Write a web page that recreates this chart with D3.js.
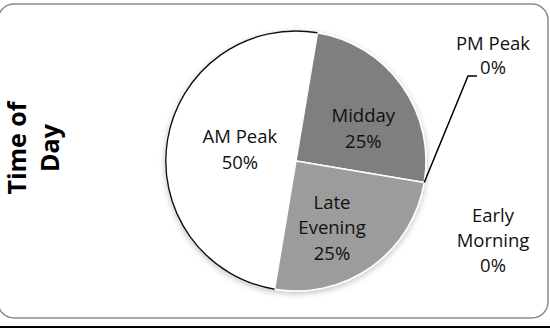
<!DOCTYPE html>
<html><head><meta charset="utf-8">
<script src="https://cdn.jsdelivr.net/npm/d3@7"></script>
<style>html,body{margin:0;padding:0;background:#fff;} svg{display:block}</style>
</head><body>
<script>
// ---- data ----
const categories = ["AM Peak", "Midday", "PM Peak", "Late Evening", "Early Morning"];
const values = [50, 25, 0, 25, 0];
const percentLabels = ["50%", "25%", "0%", "25%", "0%"];
const titleLines = ["Time of", "Day"];

const W = 550, H = 328;
const cx = 296, cy = 161, R = 130;
const rotation = 9.5 * Math.PI / 180;
const sliceColors = ["#ffffff", "#7f7f7f", "#8c8c8c", "#9c9c9c", "#b0b0b0"];
const labelFont = "'Open Sans', 'Noto Sans', sans-serif";
const labelSize = 18.5;

const rows = categories.map((c, i) => ({name: c, value: values[i], pct: percentLabels[i], color: sliceColors[i]}));

const svg = d3.select("body").append("svg").attr("width", W).attr("height", H);

const defs = svg.append("defs");
const f = defs.append("filter").attr("id", "sh").attr("x", "-20%").attr("y", "-20%").attr("width", "140%").attr("height", "140%");
f.append("feGaussianBlur").attr("in", "SourceAlpha").attr("stdDeviation", 3);
f.append("feOffset").attr("dx", 0).attr("dy", 2).attr("result", "b");
f.append("feComponentTransfer").append("feFuncA").attr("type", "linear").attr("slope", 0.25);
const fm = f.append("feMerge");
fm.append("feMergeNode");
fm.append("feMergeNode").attr("in", "SourceGraphic");

// frame
svg.append("rect").attr("x", -2).attr("y", 4).attr("width", 550).attr("height", 314)
  .attr("rx", 16).attr("ry", 16).attr("fill", "#fff").attr("stroke", "#8a8a8a").attr("stroke-width", 1.5);
svg.append("line").attr("x1", 0).attr("x2", W).attr("y1", 327).attr("y2", 327)
  .attr("stroke", "#000").attr("stroke-width", 2);

// title
const title = svg.append("text")
  .attr("transform", "translate(26,148) rotate(-90)")
  .attr("text-anchor", "middle")
  .attr("font-family", labelFont).attr("font-weight", "bold").attr("font-size", 25).attr("fill", "#000");
titleLines.forEach((t, i) => title.append("tspan").attr("x", 0).attr("y", i * 33).text(t));

// pie
const pie = d3.pie().sort(null).value(d => d.value)
  .startAngle(Math.PI + rotation).endAngle(3 * Math.PI + rotation);
const arcs = pie(rows);
const arc = d3.arc().innerRadius(0).outerRadius(R);
const g = svg.append("g").attr("transform", `translate(${cx},${cy})`);

g.append("g").attr("filter", "url(#sh)")
  .selectAll("path").data(arcs.filter(a => a.value > 0)).join("path")
  .attr("d", arc).attr("fill", d => d.data.color)
  .attr("stroke", "#fff").attr("stroke-width", 1.5).attr("stroke-linejoin", "round");

// dark outline on the white slice's rim
const whiteSlice = arcs[0];
g.append("path")
  .attr("d", d3.arc().innerRadius(R).outerRadius(R)({startAngle: whiteSlice.startAngle, endAngle: whiteSlice.endAngle}))
  .attr("fill", "none").attr("stroke", "#111").attr("stroke-width", 1.4);

// inside labels
const labelArc = d3.arc().innerRadius(R * 0.57).outerRadius(R * 0.57);
const nudge = {"AM Peak": [17, 1], "Midday": [7, 11], "Late Evening": [-7, 7]};
const lineH = 25.5;
arcs.filter(a => a.value > 0).forEach(a => {
  const [x, y] = labelArc.centroid(a);
  const [nx, ny] = nudge[a.data.name] || [0, 0];
  const lines = a.data.name === "Late Evening" ? ["Late", "Evening", a.data.pct] : [a.data.name, a.data.pct];
  const t = g.append("text").attr("text-anchor", "middle")
    .attr("font-family", labelFont).attr("font-size", labelSize).attr("fill", "#111");
  const y0 = y + ny - (lines.length - 1) * lineH / 2 + 6;
  lines.forEach((l, i) => t.append("tspan").attr("x", x + nx).attr("y", y0 + i * lineH).text(l));
});

// outside labels for zero slices
const outside = {
  "PM Peak": {x: R + 67, y: -111, lines: ["PM Peak", "0%"]},
  "Early Morning": {x: R + 67, y: 61, lines: ["Early", "Morning", "0%"]}
};
arcs.filter(a => a.value === 0).forEach(a => {
  const o = outside[a.data.name];
  const t = g.append("text").attr("text-anchor", "middle")
    .attr("font-family", labelFont).attr("font-size", labelSize).attr("fill", "#111");
  o.lines.forEach((l, i) => t.append("tspan").attr("x", o.x).attr("y", o.y + i * (a.data.name === "PM Peak" ? 24 : 25)).text(l));
  if (a.data.name === "PM Peak") {
    const ang = a.startAngle;
    const px = R * Math.sin(ang), py = -R * Math.cos(ang);
    g.append("polyline")
      .attr("points", [[px, py], [172, -85], [181, -85]].map(p => p.join(",")).join(" "))
      .attr("fill", "none").attr("stroke", "#000").attr("stroke-width", 1.5);
  }
});
</script>
</body></html>
